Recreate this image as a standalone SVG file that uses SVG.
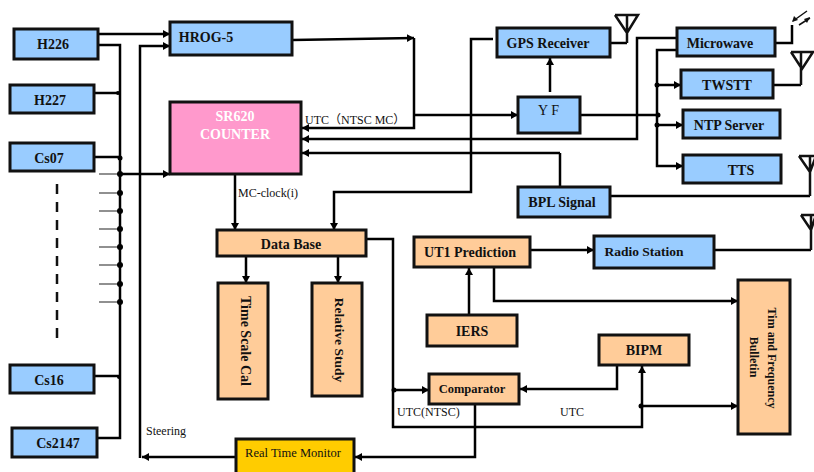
<svg xmlns="http://www.w3.org/2000/svg" width="814" height="472" viewBox="0 0 814 472">
<defs>
<marker id="a" markerUnits="userSpaceOnUse" markerWidth="8" markerHeight="9" refX="7" refY="4" orient="auto"><path d="M0,0 L7,4 L0,8 Z" fill="#000"/></marker>
</defs>
<style>
.b{stroke:#111;stroke-width:3}
.blue{fill:#99ccff}
.or{fill:#ffcc99}
text{font-family:"Liberation Serif","Noto Sans CJK SC","Times New Roman",serif;fill:#111}
.t{font-weight:bold;font-size:14px;text-anchor:middle}
.l{font-size:12px}
.c{fill:none;stroke:#000;stroke-width:2.5}
.h{fill:none;stroke:#222;stroke-width:1.2}
.m{marker-end:url(#a)}
</style>
<rect width="814" height="472" fill="#fff"/>
<g id="connectors">
<path class="c m" d="M98,34H170"/>
<path class="c" d="M98,45H120V208M120,208V438H97M94,93H120M94,157H120M94,376H120"/>
<path class="h" d="M99,174H120M99,193H120M99,211H120M99,229H120M99,247H120M99,265H120M99,284H120M99,302H120"/>
<path class="c m" d="M120,174H170"/>
<path class="c m" d="M140,458V46H170"/>
<path d="M57,184V341" fill="none" stroke="#111" stroke-width="2.5" stroke-dasharray="10 8"/>
<path class="c m" d="M236,457H142"/>
<path class="c m" d="M475,404V457H355"/>
<path class="c m" d="M292,40L414,38"/>
<path class="c m" d="M414,38V128H302"/>
<path class="c m" d="M414,115H518"/>
<path class="c m" d="M677,38H637V139H302"/>
<path class="c m" d="M560,153H302"/>
<path class="c" d="M560,153V187"/>
<path class="c m" d="M493,39H471V192H334V230"/>
<path class="c m" d="M550,92V58"/>
<path class="c" d="M580,115H657"/>
<path class="c m" d="M682,50H657V166H683"/>
<path class="c m" d="M657,85H681"/>
<path class="c m" d="M657,125H683"/>
<path class="c m" d="M235,174V230"/>
<path class="c m" d="M246,256V283"/>
<path class="c m" d="M338,256V283"/>
<path class="c m" d="M366,239H393V427H642V366"/>
<path class="c m" d="M394,390H429"/>
<path class="c m" d="M617,365V389H520"/>
<path class="c m" d="M642,406H738"/>
<path class="c m" d="M530,250H594"/>
<path class="c m" d="M494,267V301H738"/>
<path class="c m" d="M469,315V268"/>
<path class="c" d="M610,43H627M775,43H792V25M773,85H801M610,196H810M714,250H811"/>
<g fill="#000">
<circle cx="118" cy="93" r="2"/><circle cx="120" cy="158" r="2.5"/><circle cx="120" cy="174" r="3"/><circle cx="120" cy="193" r="3"/><circle cx="120" cy="211" r="3"/><circle cx="120" cy="229" r="3"/><circle cx="120" cy="247" r="3"/><circle cx="120" cy="265" r="3"/><circle cx="120" cy="284" r="3"/><circle cx="120" cy="302" r="3"/><circle cx="119" cy="377" r="2"/>
<circle cx="657" cy="85" r="2.5"/><circle cx="658" cy="115" r="2.5"/><circle cx="657" cy="125" r="2.5"/><circle cx="394" cy="390" r="2.5"/><circle cx="641" cy="406" r="2.5"/>
</g>
</g>
<g id="antennas" fill="none" stroke="#111" stroke-width="2.5">
<path d="M615,15H638L627,33L615,15M627,15V43"/>
<path d="M791,52H813L802,69L791,52M801,52V85"/>
<path d="M799,156H816L810,172L799,156M810,156V196"/>
<path d="M801,215H816L811,230L801,215M811,215V250"/>
<path stroke-width="1.5" d="M807,11L793,21M810,18L799,25"/>
<path fill="#111" stroke="none" d="M792,22L794,16L798,20ZM810,17L804,19L807,23Z"/>
</g>
<g id="H226"><rect class="b blue" x="14" y="29" width="84" height="30"/><text class="t" x="53" y="49">H226</text></g>
<g id="H227"><rect class="b blue" x="10" y="85" width="84" height="28"/><text class="t" x="50" y="105">H227</text></g>
<g id="Cs07"><rect class="b blue" x="10" y="143" width="84" height="28"/><text class="t" x="49" y="163">Cs07</text></g>
<g id="Cs16"><rect class="b blue" x="10" y="365" width="84" height="28"/><text class="t" x="49" y="385">Cs16</text></g>
<g id="Cs2147"><rect class="b blue" x="12" y="428" width="85" height="29"/><text class="t" x="58" y="448">Cs2147</text></g>
<g id="HROG-5"><rect class="b blue" x="170" y="22" width="122" height="33"/><text class="t" x="206" y="42">HROG-5</text></g>
<g id="SR620"><rect class="b" x="170" y="102" width="131" height="72" fill="#ff99cc"/><text class="t" x="235" y="121" style="fill:#fff">SR620</text><text class="t" x="235" y="139" style="fill:#fff">COUNTER</text></g>
<g id="DataBase"><rect class="b or" x="217" y="230" width="149" height="26"/><text class="t" x="291" y="249">Data Base</text></g>
<g id="TimeScaleCal"><rect class="b or" x="218" y="283" width="50" height="116"/><text class="t" transform="translate(241,341) rotate(90)">Time Scale Cal</text></g>
<g id="RelativeStudy"><rect class="b or" x="312" y="283" width="50" height="113"/><text class="t" transform="translate(335,340) rotate(90)" style="font-size:13.5px">Relative Study</text></g>
<g id="GPS"><rect class="b blue" x="497" y="28" width="113" height="29"/><text class="t" x="548" y="48">GPS Receiver</text></g>
<g id="YF"><rect class="b blue" x="518" y="97" width="62" height="36"/><text x="550" y="115" text-anchor="middle" font-size="14" letter-spacing="3">YF</text></g>
<g id="BPL"><rect class="b blue" x="518" y="187" width="92" height="30"/><text class="t" x="562" y="207">BPL Signal</text></g>
<g id="Microwave"><rect class="b blue" x="677" y="28" width="98" height="28"/><text class="t" x="720" y="48">Microwave</text></g>
<g id="TWSTT"><rect class="b blue" x="681" y="70" width="92" height="28"/><text class="t" x="727" y="90">TWSTT</text></g>
<g id="NTP"><rect class="b blue" x="683" y="110" width="97" height="28"/><text class="t" x="729" y="130">NTP Server</text></g>
<g id="TTS"><rect class="b blue" x="683" y="155" width="98" height="28"/><text class="t" x="741" y="175">TTS</text></g>
<g id="Radio"><rect class="b blue" x="594" y="236" width="120" height="32"/><text class="t" x="644" y="256" style="font-size:13.5px">Radio Station</text></g>
<g id="UT1"><rect class="b or" x="414" y="237" width="116" height="30"/><text class="t" x="470" y="257">UT1 Prediction</text></g>
<g id="IERS"><rect class="b or" x="427" y="315" width="90" height="31"/><text class="t" x="472" y="336">IERS</text></g>
<g id="BIPM"><rect class="b or" x="599" y="335" width="90" height="30"/><text class="t" x="644" y="355">BIPM</text></g>
<g id="Comparator"><rect class="b or" x="429" y="374" width="90" height="30"/><text class="t" x="472" y="393" style="font-size:12.5px">Comparator</text></g>
<g id="Bulletin"><rect class="b or" x="738" y="280" width="52" height="154"/><text class="t" transform="translate(768,358) rotate(90)" style="font-size:12px">Tim and Frequency</text><text class="t" transform="translate(750,357) rotate(90)" style="font-size:12px">Bulletin</text></g>
<g id="RTM"><rect class="b" x="236" y="439" width="118" height="35" fill="#ffcc00"/><text x="293" y="457" text-anchor="middle" font-size="12.5">Real Time Monitor</text></g>
<g id="labels">
<text class="l" x="305" y="124">UTC（NTSC MC）</text>
<text class="l" x="238" y="197">MC-clock(i)</text>
<text class="l" x="146" y="435">Steering</text>
<text class="l" x="397" y="416">UTC(NTSC)</text>
<text class="l" x="560" y="416">UTC</text>
</g>
</svg>
